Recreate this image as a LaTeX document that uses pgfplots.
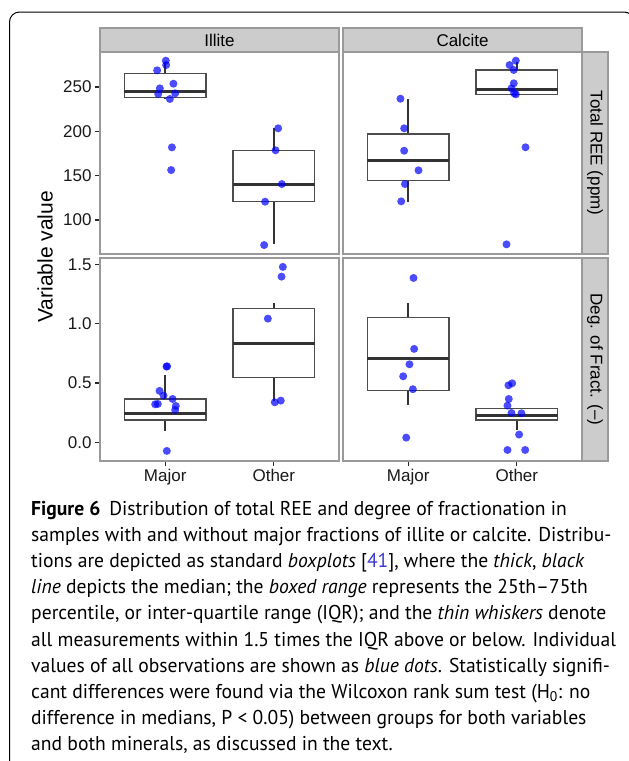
\documentclass[border=0pt]{standalone}
\usepackage{fontspec}
\setmainfont{PT Sans}[FakeStretch=0.98]
\newfontfamily\chartfont{Liberation Sans}
\usepackage{pgfplots}
\pgfplotsset{compat=1.18}

\definecolor{panelgray}{HTML}{9A9A9A}
\definecolor{stripfill}{HTML}{CCCCCC}
\definecolor{boxline}{HTML}{4D4D4D}
\definecolor{whisk}{HTML}{333333}
\definecolor{dotblue}{HTML}{0000FF}
\definecolor{refblue}{HTML}{3A3AD0}

\newcommand{\chartsize}{\chartfont\fontsize{17}{20}\selectfont}

% box at position #1: lower quartile #2, median #3, upper quartile #4,
% lower whisker #5, upper whisker #6 (box width 0.75)
\newcommand{\ggbox}[6]{%
  \pgfmathsetmacro\bxl{#1-0.375}\pgfmathsetmacro\bxr{#1+0.375}%
  \addplot[whisk, line width=1.8pt] coordinates {(#1,#4) (#1,#6)};
  \addplot[whisk, line width=1.8pt] coordinates {(#1,#5) (#1,#2)};
  \addplot[boxline, line width=1.2pt] coordinates {(\bxl,#2) (\bxr,#2) (\bxr,#4) (\bxl,#4)} -- cycle;
  \addplot[whisk, line width=3pt] coordinates {(\bxl,#3) (\bxr,#3)};
}

\pgfplotsset{
  panel/.style={
    scale only axis, width=239pt,
    xmin=0.4, xmax=2.6,
    axis line style={draw=panelgray, line width=1.1pt},
    tick align=outside, major tick length=5pt,
    major tick style={draw=black!85, line width=1.3pt},
    xtick pos=left, ytick pos=left,
    ticklabel style={font=\chartsize, text=black!90},
    /pgf/number format/assume math mode=true,
  },
  toprow/.style={height=202pt, ymin=61.6, ymax=289.5, xtick=\empty},
  botrow/.style={height=203pt, ymin=-0.158, ymax=1.553,
    xtick={1,2}, xticklabels={Major,Other}},
  ggdots/.style={only marks, mark=*, mark size=4pt, dotblue,
    mark options={draw=none, draw opacity=0, fill=dotblue, fill opacity=0.7}},
}

\begin{document}
\begin{tikzpicture}
\useasboundingbox (0pt,0pt) rectangle (629pt,-761pt);

% Illite, total REE
\begin{axis}[panel, toprow, at={(100pt,-254pt)}, ytick={100,150,200,250}]
\ggbox{1}{237.9}{245.5}{265.5}{236}{278.6}
\ggbox{2}{120.6}{140.5}{178.6}{72.8}{203.4}
\addplot[ggdots] table[row sep=\\] {
x y\\
1.006 279.7\\ 1.009 274.8\\ 0.926 268.8\\ 1.076 253.7\\ 0.951 248.5\\
0.936 242.1\\ 1.092 242.9\\ 1.043 236.5\\ 1.062 181.9\\ 1.055 156.3\\
2.040 203.4\\ 2.016 178.6\\ 2.074 140.5\\ 1.920 120.6\\ 1.911 71.7\\
};
\end{axis}

% Calcite, total REE
\begin{axis}[panel, toprow, at={(343pt,-254pt)}, ytick=\empty]
\ggbox{1}{144.3}{167.6}{197}{120.6}{236.5}
\ggbox{2}{241.7}{247.4}{269.2}{241.7}{278.6}
\addplot[ggdots] table[row sep=\\] {
x y\\
0.929 236.8\\ 0.963 203.4\\ 0.963 178.1\\ 1.095 156.0\\ 0.970 140.5\\ 0.936 121.0\\
1.991 279.7\\ 1.933 274.8\\ 1.972 269.2\\ 1.972 254.2\\ 1.951 248.5\\
1.975 242.9\\ 1.991 241.7\\ 2.080 182.0\\ 1.905 72.5\\
};
\end{axis}

% Illite, degree of fractionation
\begin{axis}[panel, botrow, at={(100pt,-461pt)}, ytick={0,0.5,1,1.5},
  yticklabel style={/pgf/number format/.cd, fixed, fixed zerofill, precision=1}]
\ggbox{1}{0.188}{0.244}{0.365}{0.098}{0.567}
\ggbox{2}{0.545}{0.834}{1.126}{0.351}{1.174}
\addplot[ggdots] table[row sep=\\] {
x y\\
1.012 0.638\\ 1.018 0.640\\ 0.948 0.433\\ 0.985 0.393\\ 1.068 0.365\\
0.908 0.320\\ 0.932 0.323\\ 1.098 0.306\\ 1.092 0.272\\ 1.015 -0.073\\
2.083 1.478\\ 2.071 1.396\\ 1.945 1.042\\ 2.009 0.337\\ 2.064 0.351\\
};
\end{axis}

% Calcite, degree of fractionation
\begin{axis}[panel, botrow, at={(343pt,-461pt)}, ytick=\empty]
\ggbox{1}{0.435}{0.702}{1.053}{0.312}{1.171}
\ggbox{2}{0.188}{0.222}{0.284}{0.104}{0.284}
\addplot[ggdots] table[row sep=\\] {
x y\\
1.049 1.385\\ 1.055 0.787\\ 1.012 0.657\\ 0.954 0.556\\ 1.043 0.447\\ 0.982 0.039\\
1.957 0.497\\ 1.923 0.480\\ 1.926 0.365\\ 1.914 0.309\\ 1.951 0.247\\
2.043 0.244\\ 2.021 0.065\\ 1.914 -0.065\\ 2.077 -0.065\\
};
\end{axis}

\begin{scope}[x=1pt, y=1pt]
% facet strips
\begin{scope}[every node/.style={font=\chartsize, text=black}]
\draw[panelgray, line width=1.1pt, fill=stripfill] (100,-28) rectangle (339,-52);
\draw[panelgray, line width=1.1pt, fill=stripfill] (343,-28) rectangle (582,-52);
\draw[panelgray, line width=1.1pt, fill=stripfill] (582,-52) rectangle (608,-254);
\draw[panelgray, line width=1.1pt, fill=stripfill] (582,-258) rectangle (608,-461);
\node at (219.5,-40) {Illite};
\node at (462.5,-40) {Calcite};
\node[rotate=-90] at (595,-153) {Total REE (ppm)};
\node[rotate=-90] at (595,-359.5) {Deg. of Fract. (–)};
\end{scope}
\node[rotate=90, font=\chartfont\fontsize{21}{24}\selectfont] at (45,-257) {Variable value};

% frame
\draw[line width=1pt, rounded corners=10pt] (9.5,-770) -- (9.5,-12) -- (634,-12) -- (634,-770);

% caption
\begin{scope}[every node/.style={anchor=base west, inner sep=0pt, font=\fontsize{20}{24}\selectfont}]
\node at (31,-515.0) {\textbf{Figure 6}\hspace{9pt}Distribution of total REE and degree of fractionation in};
\node at (31,-541.2) {samples with and without major fractions of illite or calcite. Distribu-};
\node at (31,-567.4) {tions are depicted as standard \textit{boxplots} [\textcolor{refblue}{41}], where the \textit{thick}, \textit{black}};
\node at (31,-593.6) {\textit{line} depicts the median; the \textit{boxed range} represents the 25th–75th};
\node at (31,-619.8) {percentile, or inter-quartile range (IQR); and the \textit{thin whiskers} denote};
\node at (31,-646.0) {all measurements within 1.5 times the IQR above or below. Individual};
\node at (31,-672.2) {values of all observations are shown as \textit{blue dots}. Statistically signifi-};
\node at (31,-698.4) {cant differences were found via the Wilcoxon rank sum test (H\textsubscript{0}: no};
\node at (31,-724.6) {difference in medians, P < 0.05) between groups for both variables};
\node at (31,-750.8) {and both minerals, as discussed in the text.};
\end{scope}
\end{scope}
\end{tikzpicture}
\end{document}
